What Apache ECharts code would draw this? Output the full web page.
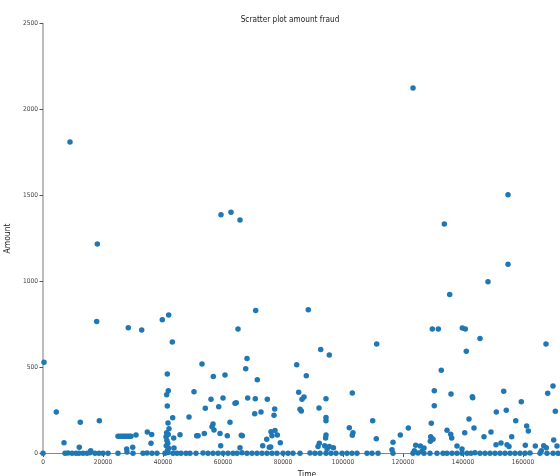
<!DOCTYPE html>
<html>
<head>
<meta charset="utf-8">
<script src="https://cdn.jsdelivr.net/npm/echarts@6/dist/echarts.min.js"></script>
<style>
html,body{margin:0;padding:0;background:#fff;}
#chart{width:560px;height:476px;}
</style>
</head>
<body>
<div id="chart"></div>
<script>
// ---- data (Time in seconds, Amount) ----
const highTime = [123330, 9000, 18100, 59330, 62670, 65670, 133770, 155000, 155000, 148330, 135570, 70900, 88430, 17900, 28430, 32900, 39770, 41900, 43100, 65000, 111230, 129770, 131770, 139770, 140770, 145670, 167670, 92570];
const highAmount = [2125, 1811, 1218, 1388, 1402, 1357, 1334, 1505, 1100, 999, 925, 832, 836, 768, 731, 718, 778, 805, 648, 724, 637, 724, 724, 730, 724, 668, 637, 604];

const midTime = [333, 41430, 53000, 56770, 41770, 41230, 50330, 56000, 41430, 54100, 4430, 43230, 48670, 95430, 68000, 67570, 84570, 87770, 71430, 60670, 85230, 87000, 86330, 94330, 103100, 60000, 68230, 70770, 74770, 64000, 64430, 58570, 85670, 86100, 92000, 70570, 72670, 77230, 77000, 94330, 141100, 132770, 130430, 136000, 143100, 143230, 153570, 170000, 168230, 130430, 159430, 170770, 151100, 154430, 142000];
const midAmount = [530, 462, 520, 447, 365, 342, 359, 315, 276, 263, 241, 208, 212, 573, 553, 493, 516, 452, 429, 456, 356, 328, 315, 319, 352, 323, 323, 319, 315, 292, 295, 272, 257, 247, 265, 231, 241, 259, 222, 210, 594, 484, 365, 346, 330, 324, 362, 392, 350, 278, 301, 245, 241, 251, 201];

const lowTime = [12430, 18770, 41670, 56670, 42000, 56330, 34770, 36230, 25000, 25700, 26400, 27000, 27600, 28200, 28800, 29330, 31000, 41200, 41000, 41770, 51230, 51700, 45670, 43570, 53770, 36000, 7000, 12100, 27900, 29900, 43670, 15900, 57000, 62330, 59000, 61430, 66100, 66430, 76000, 76330, 77330, 78100, 74570, 73230, 75430, 75900, 79100, 94330, 94330, 94200, 92100, 91670, 93900, 95430, 96800, 94700, 102100, 103330, 103100, 109900, 111100, 59230, 65670, 129430, 157570, 121770, 134670, 143670, 161230, 161770, 119100, 135900, 136230, 140570, 149330, 129230, 129670, 129100, 130000, 147000, 156230, 116670, 170230, 138000, 151000, 152670, 154670, 155330, 124230, 125770, 127000, 123770, 126330, 139670, 160770, 164100, 166900, 167770, 166100, 171330, 116330, 41300, 41600, 41100, 41900, 41500];
const lowAmount = [181, 191, 177, 171, 144, 156, 125, 111, 101, 101, 101, 101, 101, 101, 101, 101, 107, 121, 98, 111, 103, 103, 109, 90, 117, 59, 63, 36, 26, 36, 32, 16, 137, 181, 117, 103, 106, 103, 127, 103, 133, 108, 83, 45, 36, 38, 63, 191, 108, 90, 59, 40, 45, 40, 34, 28, 150, 121, 106, 191, 86, 45, 34, 176, 191, 148, 135, 148, 160, 131, 108, 112, 90, 121, 125, 98, 86, 71, 83, 98, 98, 65, 78, 44, 51, 61, 51, 40, 48, 44, 32, 16, 13, 26, 48, 44, 45, 34, 16, 44, 22, 75, 60, 45, 30, 18];

const zeroTime = [0, 7330, 8330, 9670, 11000, 12000, 13330, 14670, 15670, 17330, 18670, 20000, 21670, 25000, 28000, 30000, 33330, 34670, 36330, 38000, 40670, 41670, 43330, 44670, 46000, 47670, 49000, 51000, 53330, 55000, 56670, 58330, 60000, 61670, 63330, 64670, 66330, 68000, 69670, 71330, 73000, 74670, 76330, 78000, 80000, 81670, 83330, 85670, 89000, 90670, 92330, 94330, 96000, 97670, 99670, 101330, 103000, 104670, 108000, 109670, 111670, 116670, 123330, 125000, 127000, 129000, 131330, 133330, 134670, 136330, 138000, 139670, 141330, 142670, 144000, 145670, 147330, 149000, 150670, 152330, 154000, 155670, 157330, 159000, 160670, 162330, 165670, 168000, 170000, 171670];
const zeroAmount = [1, 1, 3, 1, 0.8, 1, 2, 1, 4, 1, 1, 1, 2, 1, 9, 1, 1, 3, 1, 1, 1, 6, 1, 1, 2, 1, 1, 1, 3, 1, 1, 1, 2, 1, 1, 1, 4, 1, 1, 1, 1, 1, 2, 1, 1, 1, 1, 1, 3, 1, 1, 1, 2, 1, 1, 1, 1, 1, 1, 2, 1, 1, 1, 3, 1, 1, 1, 1, 1, 2, 1, 1, 1, 1, 4, 1, 1, 1, 2, 1, 1, 1, 1, 1, 1, 3, 1, 1, 1, 1];

const xTicks = [0, 20000, 40000, 60000, 80000, 100000, 120000, 140000, 160000];

function zip(a, b) { return a.map((v, i) => [v, b[i]]); }
const points = [].concat(zip(zeroTime, zeroAmount), zip(lowTime, lowAmount), zip(midTime, midAmount), zip(highTime, highAmount));

// pick the narrowest installed font and size text to the reference's widths
const ctx = document.createElement('canvas').getContext('2d');
function w(font, s) { ctx.font = font; return ctx.measureText(s).width; }
function has(name) {
  const probe = 'mmmmmwwwwwlllii0123456789';
  return w('40px "' + name + '", monospace', probe) !== w('40px monospace', probe) ||
         w('40px "' + name + '", serif', probe) !== w('40px serif', probe);
}
let FAM = 'DejaVu Sans';
for (const f of ['Liberation Sans Narrow', 'DejaVu Sans Condensed', 'Liberation Sans']) {
  if (has(f)) { FAM = f; break; }
}
const FONT = '"' + FAM + '", sans-serif';
function fit(base, text, target) {
  const m = w(base + 'px ' + FONT, text);
  return Math.max(base * 0.82, Math.min(base, base * target / m));
}
const titleSize = fit(10, 'Scratter plot amount fraud', 95);
const tickSize = fit(8, '160000', 20);
const nameSize = fit(10, 'Amount', 30);

const chart = echarts.init(document.getElementById('chart'), null, {renderer: 'canvas'});
chart.setOption({
  animation: false,
  backgroundColor: '#ffffff',
  title: {
    text: 'Scratter plot amount fraud',
    left: 285, top: 11, textAlign: 'center',
    textStyle: {fontFamily: FONT, fontSize: titleSize, fontWeight: 'normal', color: '#222'}
  },
  grid: {left: 43, right: 1, top: 23.5, bottom: 22.5, containLabel: false, outerBoundsMode: 'none'},
  xAxis: [{
    type: 'value', min: 0, max: 172000, interval: 20000,
    name: 'Time', nameLocation: 'middle', nameGap: 14,
    nameTextStyle: {fontFamily: FONT, fontSize: nameSize, color: '#222', padding: [0, 0, 0, 12]},
    axisLine: {show: true, onZero: false, lineStyle: {color: '#333', width: 1.2}},
    axisTick: {show: true, length: 3.5, customValues: xTicks, lineStyle: {color: '#555'}},
    axisLabel: {customValues: xTicks, margin: 5, fontFamily: FONT, fontSize: tickSize, color: '#444',
      formatter: v => String(v)},
    splitLine: {show: false}
  }, {
    type: 'value', position: 'top', min: 0, max: 172000,
    axisLine: {show: true, lineStyle: {color: '#888', width: 1}},
    axisTick: {show: false}, axisLabel: {show: false}, splitLine: {show: false}
  }],
  yAxis: {
    type: 'value', min: 0, max: 2500, interval: 500,
    name: 'Amount', nameLocation: 'middle', nameGap: 23, nameRotate: 90,
    nameTextStyle: {fontFamily: FONT, fontSize: nameSize, color: '#222'},
    axisLine: {show: true, lineStyle: {color: '#bdbdbd', width: 2}},
    axisTick: {show: true, length: 3.5, lineStyle: {color: '#555'}},
    axisLabel: {margin: 5, fontFamily: FONT, fontSize: tickSize, color: '#444', formatter: v => String(v)},
    splitLine: {show: false}
  },
  series: [{
    type: 'scatter',
    xAxisIndex: 0,
    data: points,
    symbol: 'circle',
    symbolSize: 5.5,
    itemStyle: {color: '#1f77b4', opacity: 1},
    clip: false
  }]
});
</script>
</body>
</html>
